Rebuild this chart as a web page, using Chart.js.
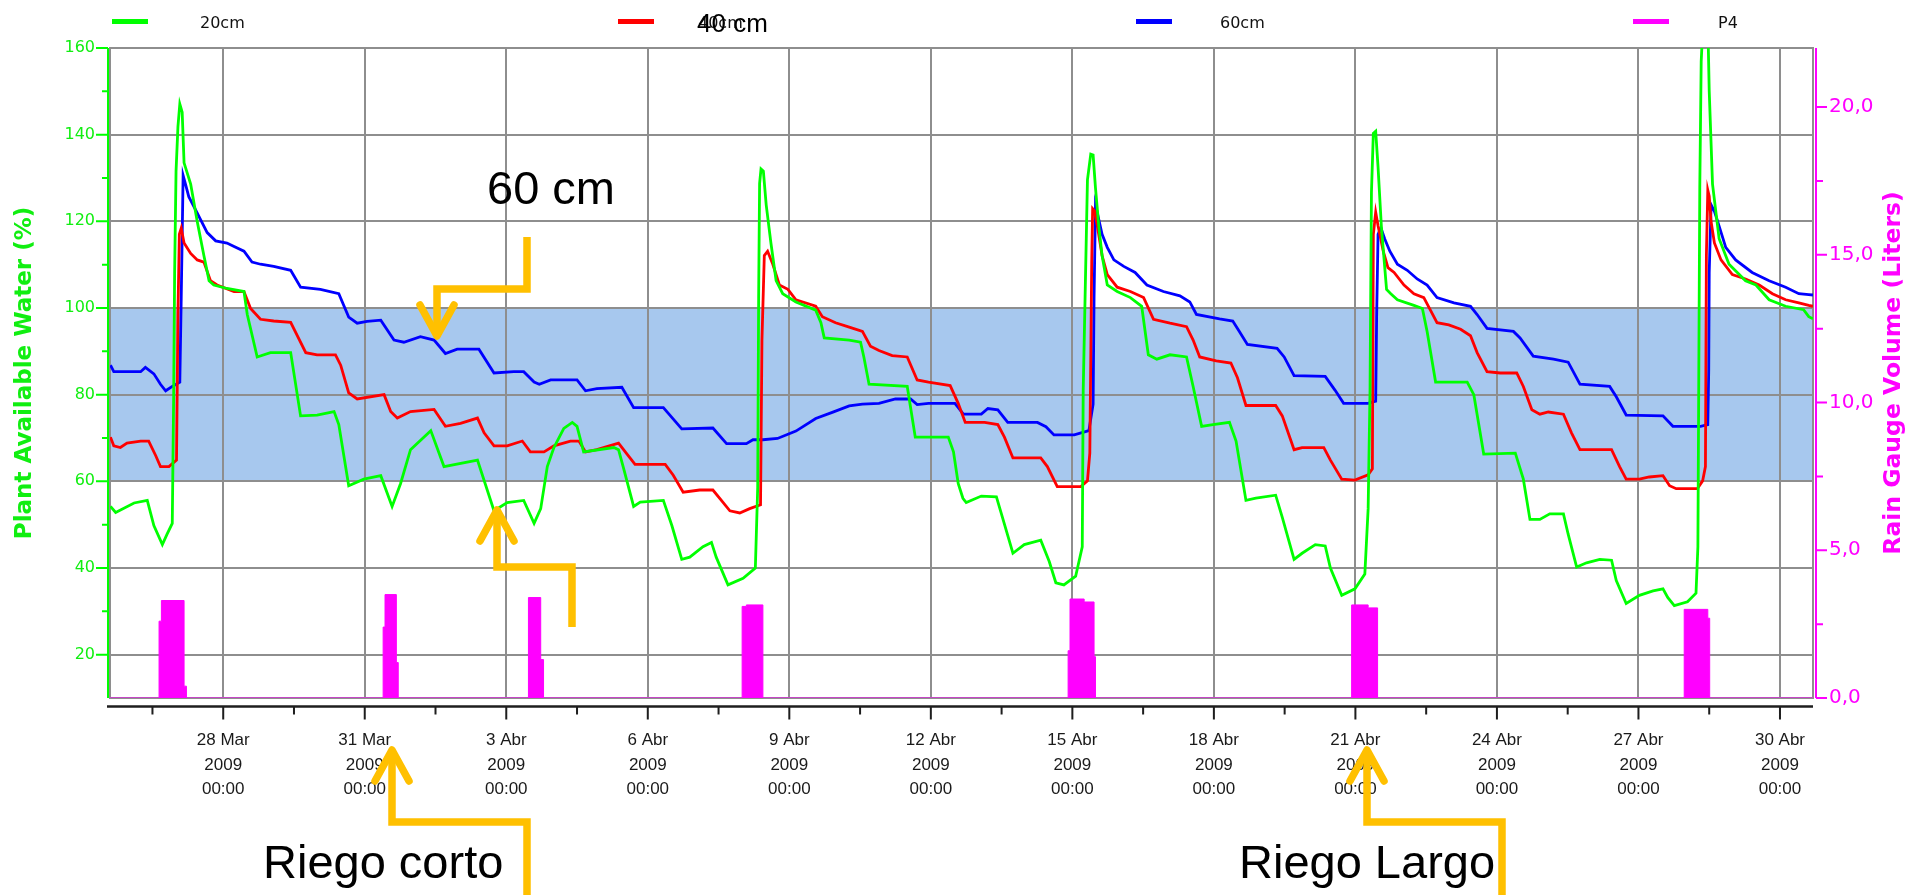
<!DOCTYPE html>
<html>
<head>
<meta charset="utf-8">
<title>Plant Available Water</title>
<script src="https://cdn.jsdelivr.net/npm/chart.js@4.4.0/dist/chart.umd.min.js"></script>
<style>
  html, body { margin: 0; padding: 0; background: #ffffff; }
  #wrap { position: relative; width: 1910px; height: 895px; }
  canvas { display: block; }
</style>
</head>
<body>
<div id="wrap"><canvas id="chart" width="1910" height="895"></canvas></div>
<script>
// Time is counted in days of March 2009: 28 = 28 Mar 00:00, 32 = 1 Abr 00:00, 61 = 30 Abr 00:00.
const xMin = 25.6;
const xMax = 61.7;
const xMajorTicks = [28, 31, 34, 37, 40, 43, 46, 49, 52, 55, 58, 61];
const xMinorTicks = [26.5, 29.5, 32.5, 35.5, 38.5, 41.5, 44.5, 47.5, 50.5, 53.5, 56.5, 59.5];
const waterTicks = [20, 40, 60, 80, 100, 120, 140, 160];
const waterMinorTicks = [30, 50, 70, 90, 110, 130, 150];
const rainTicks = [0, 5, 10, 15, 20];
const rainMinorTicks = [2.5, 7.5, 12.5, 17.5];
const targetBand = [60, 100];

// 20 cm probe
const days20 = [25.61,25.72,26.11,26.39,26.53,26.71,26.81,26.92,26.95,26.97,27.00,27.04,27.08,27.13,27.17,27.31,27.45,27.59,27.70,27.80,28.08,28.44,28.51,28.72,29.00,29.43,29.64,29.99,30.35,30.45,30.66,30.98,31.34,31.58,31.76,31.97,32.40,32.68,33.39,33.74,34.02,34.37,34.59,
  34.73,34.87,35.01,35.22,35.40,35.50,35.64,36.28,36.38,36.49,36.70,36.84,37.33,37.51,37.72,37.89,38.17,38.35,38.45,38.70,39.02,39.28,39.33,39.35,39.37,39.40,39.45,39.51,39.61,39.72,39.86,40.14,40.56,40.67,40.74,41.27,41.51,41.58,41.69,42.50,42.67,43.37,43.48,43.58,
  43.68,43.75,44.07,44.39,44.49,44.74,44.98,45.33,45.51,45.65,45.82,46.07,46.21,46.23,46.32,46.39,46.44,46.49,46.56,46.63,46.74,46.95,47.23,47.47,47.61,47.79,48.07,48.42,48.56,48.74,48.98,49.33,49.47,49.68,49.89,50.31,50.45,50.70,50.87,51.15,51.36,51.47,51.71,51.99,52.20,52.27,52.31,52.34,52.38,52.43,52.48,52.55,52.66,
  52.75,52.89,53.24,53.42,53.52,53.70,54.37,54.51,54.72,55.39,55.56,55.70,55.91,56.12,56.41,56.51,56.69,56.90,57.18,57.43,57.53,57.74,58.02,58.31,58.52,58.62,58.76,59.04,59.22,59.26,59.30,59.33,59.37,59.47,59.50,59.57,59.71,59.92,60.27,60.49,60.77,61.12,61.50,61.61,61.70];
const water20 = [54.2,52.8,55.0,55.6,49.8,45.4,47.8,50.3,80.0,108.0,131.6,141.8,147.1,145.2,133.5,128.6,119.9,112.1,106.3,105.3,104.5,103.8,98.5,88.7,89.7,89.7,75.1,75.3,76.1,73.1,59.0,60.5,61.3,54.2,59.5,67.3,71.7,63.4,64.9,53.2,55.1,55.6,50.3,
  53.7,63.4,67.8,72.2,73.6,72.7,66.8,67.8,67.3,62.9,54.2,55.2,55.6,49.8,42.0,42.5,44.9,45.9,42.5,36.1,37.6,40.0,58.6,102.4,128.7,132.1,131.6,123.8,115.0,106.3,103.3,101.4,99.5,96.6,93.1,92.6,92.1,88.7,82.4,81.9,70.2,70.2,66.8,59.5,
  56.1,55.1,56.6,56.4,52.7,43.4,45.4,46.4,41.5,36.6,36.1,38.1,44.9,81.0,129.6,135.5,135.3,127.7,118.9,112.1,105.3,103.8,102.4,100.4,89.2,88.2,89.2,88.7,81.9,72.7,73.1,73.6,69.3,55.6,56.1,56.8,51.7,42.0,43.4,45.4,45.1,40.0,33.7,35.2,38.6,53.7,81.0,126.7,140.3,140.8,132.5,118.9,104.3,
  103.3,101.9,100.6,99.9,94.6,82.9,82.9,80.0,66.3,66.5,60.5,51.2,51.2,52.5,52.5,47.8,40.2,41.2,42.0,41.8,37.1,31.8,33.7,34.7,35.2,33.2,31.3,32.2,34.2,44.9,127.7,156.9,166.0,166.0,150.1,128.6,116.0,110.1,106.3,105.3,101.9,100.4,99.6,98.0,97.5];

// 40 cm probe
const days40 = [25.61,25.68,25.82,25.96,26.25,26.42,26.57,26.67,26.85,27.01,27.04,27.07,27.11,27.17,27.31,27.45,27.59,27.73,27.87,28.23,28.44,28.58,28.79,29.07,29.43,29.57,29.75,29.99,30.38,30.49,30.66,30.84,31.41,31.55,31.69,31.97,32.47,32.71,33.03,33.39,33.53,33.74,34.02,34.34,34.51,
  34.80,35.01,35.36,35.54,35.68,35.92,36.38,36.56,36.73,37.37,37.54,37.75,38.10,38.38,38.56,38.74,38.95,39.16,39.39,39.42,39.47,39.54,39.65,39.79,39.97,40.14,40.56,40.70,40.98,41.27,41.55,41.72,41.90,42.18,42.50,42.71,42.95,43.41,43.58,43.73,
  44.14,44.42,44.56,44.74,45.33,45.47,45.68,46.18,46.32,46.37,46.41,46.43,46.47,46.53,46.63,46.74,46.95,47.23,47.51,47.72,48.07,48.42,48.56,48.70,49.05,49.36,49.50,49.68,50.31,50.45,50.70,50.87,51.33,51.47,51.71,51.99,52.27,52.36,52.38,52.43,52.48,52.59,52.69,
  52.82,53.03,53.24,53.45,53.59,53.73,53.98,54.23,54.44,54.58,54.79,55.07,55.42,55.56,55.74,55.91,56.09,56.41,56.58,56.76,57.43,57.60,57.74,58.02,58.23,58.52,58.66,58.80,59.25,59.36,59.42,59.44,59.47,59.50,59.54,59.61,59.75,59.99,60.27,60.56,60.84,61.12,61.40,61.61,61.70];
const water40 = [70.2,68.2,67.8,68.8,69.3,69.3,65.9,63.4,63.4,64.9,98.5,117.0,118.4,115.0,112.6,111.1,110.6,106.3,105.3,103.8,103.8,99.9,97.4,97.0,96.7,93.6,89.7,89.2,89.2,86.8,80.4,79.0,80.0,76.1,74.6,76.1,76.6,72.7,73.4,74.6,71.2,68.2,68.2,69.3,66.8,
  66.8,68.2,69.3,69.3,66.8,67.3,68.8,66.3,63.9,63.9,61.4,57.5,58.0,58.0,55.6,53.2,52.7,53.7,54.6,92.6,112.1,113.1,110.1,105.3,104.3,101.9,100.4,98.0,96.6,95.6,94.6,91.2,90.2,89.0,88.7,83.4,82.9,82.1,78.0,73.6,
  73.6,73.1,70.2,65.4,65.4,63.4,58.8,58.8,60.1,66.5,110.3,122.9,122.4,118.9,112.1,107.7,104.8,103.8,102.4,97.4,96.5,95.7,92.6,88.7,87.8,87.3,83.9,77.5,77.5,75.1,67.3,67.8,67.8,64.9,60.5,60.3,61.5,62.9,117.0,122.1,119.0,113.1,109.3,
  108.2,105.3,103.3,102.4,99.5,96.6,96.1,95.1,93.6,89.7,85.3,85.0,85.0,81.9,76.5,75.5,76.0,75.5,71.2,67.3,67.3,63.4,60.5,60.5,61.0,61.3,59.0,58.3,58.3,60.1,63.4,112.1,127.2,125.8,119.9,115.0,111.1,107.7,106.7,105.3,103.3,101.9,101.2,100.6,100.4];

// 60 cm probe
const days60 = [25.61,25.68,26.25,26.35,26.53,26.67,26.78,26.92,27.08,27.11,27.15,27.20,27.27,27.45,27.66,27.84,28.08,28.23,28.44,28.61,28.79,29.07,29.43,29.64,30.06,30.45,30.66,30.84,31.05,31.34,31.62,31.83,32.18,32.47,32.71,32.96,33.42,33.74,34.16,34.37,34.59,
  34.70,34.94,35.50,35.68,35.92,36.45,36.70,37.33,37.72,38.38,38.67,39.09,39.23,39.44,39.75,40.14,40.56,40.91,41.27,41.55,41.90,42.25,42.57,42.71,42.95,43.51,43.69,
  44.07,44.21,44.42,44.63,45.26,45.44,45.61,46.04,46.35,46.44,46.46,46.49,46.53,46.63,46.74,46.88,47.09,47.33,47.58,47.93,48.28,48.49,48.63,49.12,49.40,49.54,49.71,50.34,50.49,50.70,51.36,51.57,51.75,52.27,52.43,52.45,52.48,52.54,52.62,52.73,
  52.89,53.10,53.31,53.52,53.73,54.09,54.44,54.58,54.79,55.35,55.49,55.77,56.20,56.51,56.76,57.39,57.53,57.74,58.52,58.73,59.32,59.47,59.49,59.50,59.54,59.61,59.71,59.85,60.06,60.41,60.77,61.12,61.40,61.61,61.70];
const water60 = [86.8,85.3,85.3,86.3,84.8,82.4,80.9,81.9,82.9,102.4,130.6,128.6,125.7,121.9,117.4,115.5,115.0,114.2,113.1,110.6,110.1,109.6,108.7,104.8,104.3,103.3,97.9,96.5,96.9,97.2,92.6,92.1,93.4,92.6,89.5,90.5,90.5,85.0,85.3,85.3,82.9,
  82.4,83.4,83.4,80.9,81.4,81.7,77.0,77.0,72.1,72.3,68.7,68.7,69.6,69.6,69.9,71.6,74.5,75.9,77.4,77.8,78.0,79.0,79.0,77.7,78.0,78.0,75.5,
  75.5,76.8,76.5,73.6,73.6,72.6,70.7,70.7,71.7,77.8,102.4,123.8,121.9,117.0,114.0,111.1,109.6,108.2,105.3,103.8,102.8,101.4,98.5,97.5,97.0,94.6,91.6,90.7,88.7,84.4,84.2,81.0,78.0,78.0,78.5,97.9,117.0,118.5,116.0,113.1,
  110.1,108.7,106.7,105.3,102.4,101.2,100.4,98.5,95.3,94.6,93.1,88.9,88.2,87.5,82.4,81.9,79.5,75.3,75.1,72.7,72.7,73.1,85.8,108.2,123.8,122.3,118.9,114.0,111.1,108.2,106.3,104.8,103.3,103.1,103.0];

// P4 rain gauge, each value holds until the next time
const daysP4 = [25.60,26.64,26.69,27.17,27.22,31.39,31.43,31.67,31.71,34.47,34.73,34.79,39.00,39.09,39.44,45.91,45.95,46.25,46.46,46.49,51.92,52.27,52.47,58.97,59.47,59.51,61.70];
const litersP4 = [0,2.6,3.3,0.4,0,2.4,3.5,1.2,0,3.4,1.3,0,3.1,3.15,0,1.6,3.35,3.25,1.4,0,3.15,3.05,0,3.0,2.7,0,0];

const seriesLabels = ['20cm', '40cm', '60cm', 'P4'];
const seriesColors = ['#00ff00', '#ff0000', '#0000ff', '#ff00ff'];

const toPoints = (xs, ys) => xs.map((x, i) => ({ x: x, y: ys[i] }));
const dayLabel = d => (d <= 31 ? d + ' Mar' : (d - 31) + ' Abr');

const GRID = '#8e8e8e';
const LEFT_GREEN = '#11ee11';
const MAGENTA = '#ff00ff';

// white page and the 60-100 % target band behind the grid
const bandPlugin = {
  id: 'band',
  beforeDraw(chart) {
    const { ctx, chartArea, scales } = chart;
    ctx.save();
    ctx.fillStyle = '#ffffff';
    ctx.fillRect(0, 0, chart.width, chart.height);
    const yTop = scales.y.getPixelForValue(targetBand[1]);
    const yBot = scales.y.getPixelForValue(targetBand[0]);
    ctx.fillStyle = '#a7c8ee';
    ctx.fillRect(chartArea.left, yTop, chartArea.right - chartArea.left, yBot - yTop);
    ctx.restore();
  }
};

// axis lines with their tick marks, legend row and right-hand title
const decorPlugin = {
  id: 'decor',
  afterDraw(chart) {
    const { ctx, chartArea, scales } = chart;
    const { left, right, top, bottom } = chartArea;
    ctx.save();

    // left (water) axis
    const ax = left - 2;
    ctx.strokeStyle = '#00ff00';
    ctx.lineWidth = 2;
    ctx.beginPath();
    ctx.moveTo(ax, top); ctx.lineTo(ax, bottom);
    waterTicks.forEach(v => { const y = scales.y.getPixelForValue(v); ctx.moveTo(ax, y); ctx.lineTo(ax - 12, y); });
    waterMinorTicks.forEach(v => { const y = scales.y.getPixelForValue(v); ctx.moveTo(ax, y); ctx.lineTo(ax - 6, y); });
    ctx.stroke();

    // right (rain) axis
    const bx = right + 3;
    ctx.strokeStyle = MAGENTA;
    ctx.beginPath();
    ctx.moveTo(bx, top); ctx.lineTo(bx, bottom);
    rainTicks.forEach(v => { const y = scales.y1.getPixelForValue(v); ctx.moveTo(bx, y); ctx.lineTo(bx + 11, y); });
    rainMinorTicks.forEach(v => { const y = scales.y1.getPixelForValue(v); ctx.moveTo(bx, y); ctx.lineTo(bx + 7, y); });
    ctx.stroke();

    // time axis below the plot
    const ty = bottom + 8.5;
    ctx.strokeStyle = '#1e1e1e';
    ctx.lineWidth = 2.5;
    ctx.beginPath();
    ctx.moveTo(left - 3, ty); ctx.lineTo(right, ty);
    ctx.stroke();
    ctx.lineWidth = 2;
    ctx.beginPath();
    xMajorTicks.forEach(v => { const x = scales.x.getPixelForValue(v); ctx.moveTo(x, ty); ctx.lineTo(x, ty + 13); });
    xMinorTicks.forEach(v => { const x = scales.x.getPixelForValue(v); ctx.moveTo(x, ty); ctx.lineTo(x, ty + 8); });
    ctx.stroke();

    // legend row
    const legendLineX = [112, 618, 1136, 1633];
    const legendTextX = [200, 698, 1220, 1718];
    ctx.font = '16px "DejaVu Sans", sans-serif';
    ctx.textBaseline = 'middle';
    ctx.textAlign = 'left';
    seriesLabels.forEach((lab, i) => {
      ctx.fillStyle = seriesColors[i];
      ctx.fillRect(legendLineX[i], 19, 36, 5);
      ctx.fillStyle = '#111111';
      ctx.fillText(lab, legendTextX[i], 24);
    });

    // right axis title, reading upwards
    ctx.translate(1894, (top + bottom) / 2);
    ctx.rotate(-Math.PI / 2);
    ctx.fillStyle = MAGENTA;
    ctx.font = 'bold 23.5px "DejaVu Sans", sans-serif';
    ctx.textAlign = 'center';
    ctx.textBaseline = 'middle';
    ctx.fillText('Rain Gauge Volume (Liters)', 0, 0);
    ctx.restore();
  }
};

// orange call-outs with their captions
const calloutPlugin = {
  id: 'callouts',
  afterDraw(chart) {
    const ctx = chart.ctx;
    const orange = '#ffc000';
    const paths = [
      { pts: [[527, 237], [527, 289], [437, 289], [437, 336]], dir: 1 },
      { pts: [[572, 627], [572, 567], [497, 567], [497, 510]], dir: -1 },
      { pts: [[527, 895], [527, 822], [392, 822], [392, 750]], dir: -1 },
      { pts: [[1502, 895], [1502, 822], [1367, 822], [1367, 750]], dir: -1 }
    ];
    ctx.save();
    ctx.strokeStyle = orange;
    ctx.lineWidth = 7.5;
    paths.forEach(p => {
      ctx.lineJoin = 'miter';
      ctx.lineCap = 'butt';
      ctx.beginPath();
      p.pts.forEach((q, i) => (i ? ctx.lineTo(q[0], q[1]) : ctx.moveTo(q[0], q[1])));
      ctx.stroke();
      const tip = p.pts[p.pts.length - 1];
      ctx.lineCap = 'round';
      ctx.lineJoin = 'round';
      ctx.beginPath();
      ctx.moveTo(tip[0] - 17, tip[1] - p.dir * 31);
      ctx.lineTo(tip[0], tip[1]);
      ctx.lineTo(tip[0] + 17, tip[1] - p.dir * 31);
      ctx.stroke();
    });
    ctx.fillStyle = '#000000';
    ctx.textBaseline = 'alphabetic';
    ctx.textAlign = 'left';
    ctx.font = '47px "Liberation Sans", Arial, sans-serif';
    ctx.fillText('60 cm', 487, 204);
    ctx.fillText('Riego corto', 263, 878);
    ctx.fillText('Riego Largo', 1239, 878);
    ctx.font = '26px "Liberation Sans", Arial, sans-serif';
    ctx.fillText('40 cm', 697, 32);
    ctx.restore();
  }
};

const lineSet = (i, xs, ys) => ({
  label: seriesLabels[i],
  data: toPoints(xs, ys),
  yAxisID: 'y',
  borderColor: seriesColors[i],
  backgroundColor: seriesColors[i],
  borderWidth: 2.8,
  pointRadius: 0,
  tension: 0,
  fill: false
});

new Chart(document.getElementById('chart'), {
  type: 'line',
  data: {
    datasets: [
      lineSet(0, days20, water20),
      lineSet(1, days40, water40),
      lineSet(2, days60, water60),
      {
        label: seriesLabels[3],
        data: toPoints(daysP4, litersP4),
        yAxisID: 'y1',
        stepped: 'before',
        borderColor: seriesColors[3],
        backgroundColor: seriesColors[3],
        borderWidth: 1,
        pointRadius: 0,
        fill: 'origin'
      }
    ]
  },
  options: {
    responsive: false,
    animation: false,
    devicePixelRatio: 1,
    layout: { padding: { top: 48, left: 0, right: 0, bottom: 0 } },
    plugins: { legend: { display: false }, tooltip: { enabled: false } },
    scales: {
      x: {
        type: 'linear',
        position: 'bottom',
        min: xMin,
        max: xMax,
        afterBuildTicks: s => { s.ticks = xMajorTicks.map(v => ({ value: v })); },
        afterFit: s => { s.height = 197; },
        grid: { color: GRID, lineWidth: 2, drawTicks: false },
        border: { display: true, color: GRID, width: 2 },
        ticks: {
          autoSkip: false,
          maxRotation: 0,
          padding: 30,
          color: '#1a1a1a',
          font: { family: '"Liberation Sans", Arial, sans-serif', size: 17, lineHeight: 1.45 },
          callback: v => [dayLabel(v), '2009', '00:00']
        }
      },
      y: {
        type: 'linear',
        position: 'left',
        min: 10,
        max: 160,
        afterBuildTicks: s => { s.ticks = waterTicks.map(v => ({ value: v })); },
        afterFit: s => { s.width = 110; },
        grid: { color: GRID, lineWidth: 2, drawTicks: false },
        border: { display: true, color: GRID, width: 2 },
        ticks: {
          padding: 15,
          color: LEFT_GREEN,
          font: { family: '"DejaVu Sans", sans-serif', size: 16 }
        },
        title: {
          display: true,
          text: 'Plant Available Water (%)',
          color: LEFT_GREEN,
          padding: { top: 11, bottom: 0 },
          font: { family: '"DejaVu Sans", sans-serif', size: 23, weight: 'bold' }
        }
      },
      y1: {
        type: 'linear',
        position: 'right',
        min: 0,
        max: 22,
        afterBuildTicks: s => { s.ticks = rainTicks.map(v => ({ value: v })); },
        afterFit: s => { s.width = 97; },
        grid: { drawOnChartArea: false, drawTicks: false },
        border: { display: true, color: GRID, width: 2 },
        ticks: {
          padding: 16,
          color: MAGENTA,
          font: { family: '"DejaVu Sans", sans-serif', size: 20 },
          callback: v => v.toFixed(1).replace('.', ',')
        }
      }
    }
  },
  plugins: [bandPlugin, decorPlugin, calloutPlugin]
});
</script>
</body>
</html>
